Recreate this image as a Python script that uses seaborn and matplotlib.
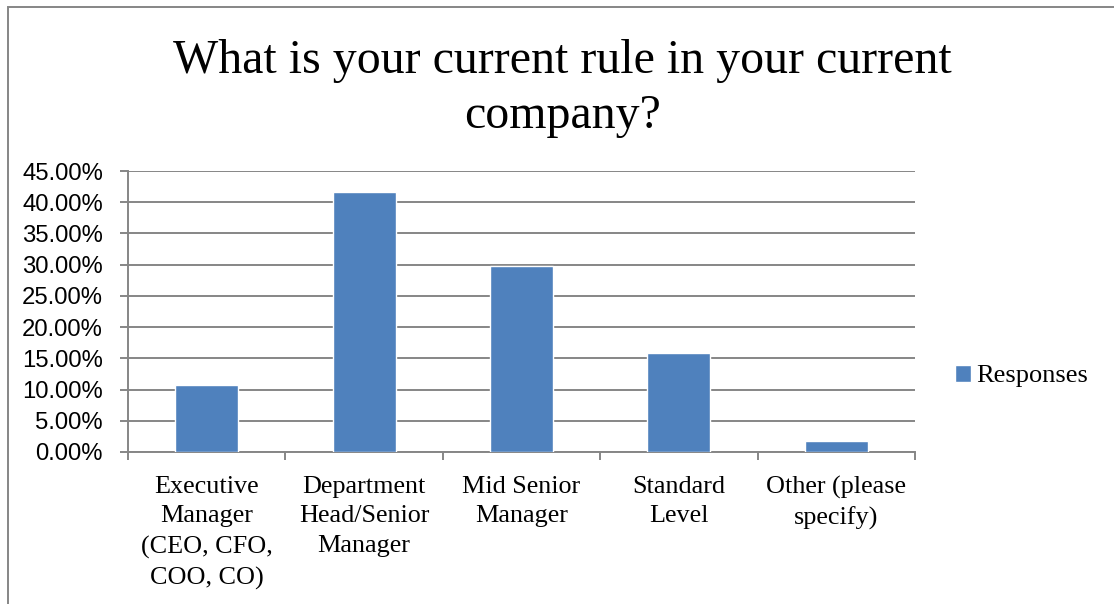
import pandas as pd
import seaborn as sns
import matplotlib.pyplot as plt
from matplotlib.patches import Rectangle
from matplotlib.ticker import PercentFormatter, MultipleLocator

# Data
roles = ['Executive\nManager\n(CEO, CFO,\nCOO, CO)', 'Department\nHead/Senior\nManager',
         'Mid Senior\nManager', 'Standard\nLevel', 'Other (please\nspecify)']
responses = [10.71, 41.58, 29.84, 15.85, 1.80]
series = ['Responses'] * len(roles)

df = pd.DataFrame({'Role': roles, 'Share': responses, 'Series': series})

sns.set_theme(style='white')
plt.rcParams['font.family'] = ['Liberation Serif', 'DejaVu Serif']
plt.rcParams['text.color'] = 'black'
plt.rcParams['xtick.labelcolor'] = 'black'
plt.rcParams['ytick.labelcolor'] = 'black'

fig = plt.figure(figsize=(11.14, 6.04), dpi=100)
ax = fig.add_axes([128 / 1114, 1 - 452 / 604, 787 / 1114, 281 / 604])

sns.barplot(data=df, x='Role', y='Share', hue='Series', palette=['#4F81BD'],
            width=0.4, ax=ax, zorder=3, saturation=1)

grid_c = '#868686'
ax.set_ylim(0, 45)
ax.set_xlim(-0.5, len(roles) - 0.5)
ax.yaxis.set_major_locator(MultipleLocator(5))
ax.yaxis.set_major_formatter(PercentFormatter(decimals=2))
ax.yaxis.grid(True, color=grid_c, linewidth=1.4, zorder=0)
ax.set_axisbelow(True)
ax.set_xlabel('')
ax.set_ylabel('')

for s in ['top', 'right']:
    ax.spines[s].set_visible(False)
for s in ['left', 'bottom']:
    ax.spines[s].set_color(grid_c)
    ax.spines[s].set_linewidth(1.4)

ax.tick_params(axis='y', which='major', left=True, length=6, color=grid_c, width=1.4,
               labelsize=17.2, pad=12)
for lab in ax.get_yticklabels():
    lab.set_family(['Liberation Sans', 'DejaVu Sans'])

ax.set_xticks([i - 0.5 for i in range(len(roles) + 1)], minor=True)
ax.tick_params(axis='x', which='minor', bottom=True, length=6, color=grid_c, width=1.4)
ax.tick_params(axis='x', which='major', bottom=False, length=0, labelsize=18.8, pad=17)
for lab in ax.get_xticklabels():
    lab.set_linespacing(1.46)
    lab.set_verticalalignment('top')

leg = ax.legend(loc='center left', bbox_to_anchor=(1.037, 0.27), frameon=False,
                fontsize=19, handlelength=0.6, handleheight=0.6, handletextpad=0.2,
                borderaxespad=0)

fig.text(0.505, 0.853, 'What is your current rule in your current\ncompany?',
         ha='center', va='center', fontsize=34.5, linespacing=1.32)

# Outer chart frame (right/bottom edges lie outside the image)
fig.add_artist(Rectangle((8 / 1114, -0.1), 1.2, 1.1 - 7 / 604,
                         transform=fig.transFigure, fill=False,
                         edgecolor=grid_c, linewidth=1.4))

fig.savefig('out.png', dpi=100)
